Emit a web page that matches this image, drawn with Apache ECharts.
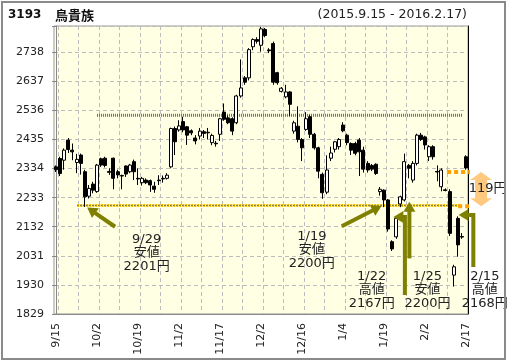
<!DOCTYPE html>
<html><head><meta charset="utf-8">
<script src="https://cdn.jsdelivr.net/npm/echarts@6/dist/echarts.min.js"></script>
<style>html,body{margin:0;padding:0;background:#fff}#c{width:511px;height:364px}</style>
</head><body><div id="c"></div>
<script>
// ---- data ----
const BASE = 1829; // bottom of the price axis
const dates = ['9/15','9/16','9/17','9/18','9/24','9/25','9/28','9/29','9/30','10/1',
'10/2','10/5','10/6','10/7','10/8','10/9','10/13','10/14','10/15','10/16',
'10/19','10/20','10/21','10/22','10/23','10/26','10/27','10/28','10/29','10/30',
'11/2','11/4','11/5','11/6','11/9','11/10','11/11','11/12','11/13','11/16',
'11/17','11/18','11/19','11/20','11/24','11/25','11/26','11/27','11/30','12/1',
'12/2','12/3','12/4','12/7','12/8','12/9','12/10','12/11','12/14','12/15',
'12/16','12/17','12/18','12/21','12/22','12/24','12/25','12/28','12/29','12/30',
'1/4','1/5','1/6','1/7','1/8','1/12','1/13','1/14','1/15','1/18',
'1/19','1/20','1/21','1/22','1/25','1/26','1/27','1/28','1/29','2/1',
'2/2','2/3','2/4','2/5','2/8','2/9','2/10','2/12','2/15','2/16',
'2/17'];
const opens = [2340,2369,2363,2433,2398,2355,2381,2323,2238,2280,
2254,2368,2370,2324,2370,2323,2310,2343,2323,2358,
2300,2285,2294,2292,2273,2294,2300,2300,2340,2473,
2468,2497,2479,2465,2440,2447,2462,2460,2424,2422,
2453,2530,2510,2507,2493,2586,2649,2649,2757,2782,
2762,2817,2746,2768,2667,2602,2583,2600,2464,2481,
2435,2470,2514,2453,2406,2314,2252,2370,2401,2410,
2485,2450,2421,2421,2433,2398,2352,2345,2349,2254,
2259,2225,2080,2097,2211,2225,2345,2294,2352,2450,
2444,2375,2410,2324,2271,2260,2254,1964,2161,2098,
2375];
const closes = [2330,2317,2398,2400,2392,2366,2352,2236,2265,2259,
2346,2346,2345,2321,2300,2312,2308,2315,2346,2323,
2298,2300,2285,2277,2262,2292,2298,2311,2473,2427,
2482,2468,2450,2458,2430,2464,2456,2458,2449,2420,
2507,2505,2493,2464,2586,2614,2634,2747,2782,2776,
2819,2796,2743,2634,2632,2613,2600,2557,2493,2435,
2406,2507,2453,2406,2325,2250,2329,2388,2427,2435,
2465,2424,2398,2387,2392,2332,2329,2332,2317,2262,
2225,2124,2055,2161,2236,2358,2335,2352,2450,2435,
2416,2410,2375,2322,2329,2258,2109,1993,2069,2096,
2336];
const lows = [2322,2308,2330,2388,2363,2318,2313,2201,2230,2248,
2250,2340,2338,2312,2262,2300,2262,2305,2318,2294,
2277,2275,2280,2253,2250,2277,2285,2296,2335,2381,
2462,2460,2416,2450,2418,2435,2440,2435,2415,2410,
2430,2500,2488,2450,2488,2580,2625,2640,2745,2768,
2740,2790,2735,2625,2625,2598,2578,2516,2455,2425,
2360,2465,2440,2400,2300,2229,2245,2360,2390,2400,
2460,2415,2381,2380,2308,2320,2320,2325,2312,2240,
2200,2115,2048,2090,2200,2220,2300,2285,2345,2430,
2400,2360,2365,2290,2255,2255,2100,1924,2028,2090,
2330];
const highs = [2345,2375,2404,2440,2421,2385,2386,2330,2277,2288,
2350,2372,2375,2335,2372,2330,2313,2345,2350,2365,
2335,2305,2300,2296,2288,2311,2310,2318,2476,2480,
2502,2514,2482,2470,2450,2475,2468,2475,2455,2430,
2510,2560,2518,2512,2590,2713,2655,2752,2786,2790,
2826,2822,2752,2775,2670,2617,2625,2603,2500,2550,
2440,2530,2520,2458,2410,2320,2380,2410,2430,2440,
2495,2455,2425,2427,2440,2410,2360,2350,2352,2270,
2262,2228,2085,2167,2240,2386,2350,2360,2455,2458,
2448,2415,2415,2345,2335,2265,2262,2000,2168,2110,
2380];
const yTickValues = [1829,1930,2031,2132,2233,2334,2435,2536,2637,2738];

// reference lines (price levels)
const resistLevel = 2519;
const supportLevel = 2206;
const boxTop = 2322, boxBottom = 2203;

// annotation texts
const annTexts = ['9/29\n安値\n2201円','1/19\n安値\n2200円','1/22\n高値\n2167円','1/25\n安値\n2200円','2/15\n高値\n2168円','119円'];
</script>
<script>
// ---- layout / annotation anchors (x = trading-day index, y = price) ----
const annAnchors = [[22.1,2042],[62.4,2051],[77.0,1912],[90.6,1912],[104.6,1912],[105.3,2265]];
const arrowPaths = [
  [[14.4,2132],[7.6,2199]],
  [[69.7,2134],[79.4,2204]],
  [[85.1,1895],[85.1,2166],[82.3,2166]],
  [[86.2,2022],[86.2,2219]],
  [[101.8,1992],[101.8,2173],[98.2,2173]]
];
const OLIVE = '#808000';
const ORANGE = '#ffa000';
const FONT = '"DejaVu Sans","Noto Sans CJK JP",sans-serif';

const chart = echarts.init(document.getElementById('c'), null, {renderer:'canvas'});
const candleData = dates.map((d,i)=>[opens[i]-BASE, closes[i]-BASE, lows[i]-BASE, highs[i]-BASE]);

function lineSeries(pts, style, z){
  return {type:'line', xAxisIndex:1, yAxisIndex:0, data: pts.map(p=>[p[0], p[1]-BASE]),
    symbol:'none', silent:true, clip:false, z:z, lineStyle: style, animation:false};
}

const option = {
  animation:false,
  backgroundColor:'#fff',
  grid:{left:54, top:26, width:414, height:288, show:true, backgroundColor:'#ffffe4', borderColor:'#999', borderWidth:1},
  xAxis:[
    {type:'category', data:dates, boundaryGap:true,
     axisLine:{lineStyle:{color:'#888'}},
     axisTick:{alignWithLabel:true, interval:(i)=>i%10===0, length:4, lineStyle:{color:'#888'}},
     axisLabel:{interval:(i)=>i%10===0, rotate:90, margin:9, fontSize:11, fontFamily:FONT, color:'#222'},
     splitLine:{show:true, interval:(i)=>i%5===1, lineStyle:{color:'#bdbdbd', type:[4,3]}}},
    {type:'value', min:-0.5, max:100.5, show:false}
  ],
  yAxis:[{type:'value', min:0, max:1000, interval:101,
    axisLine:{show:true, lineStyle:{color:'#888'}},
    axisTick:{show:true, length:4, lineStyle:{color:'#888'}},
    axisLabel:{margin:10, fontSize:11, fontFamily:FONT, color:'#222',
      formatter:(v)=>{const p=v+BASE; return yTickValues.indexOf(p)>=0?String(p):'';}},
    splitLine:{show:true, lineStyle:{color:'#bdbdbd', type:[4,3]}}
  },{type:'value', position:'right', min:0, max:1000,
    axisLine:{show:true, lineStyle:{color:'#000'}}, axisTick:{show:false}, axisLabel:{show:false}, splitLine:{show:false}
  }],
  graphic:[
    {type:'rect', shape:{x:2, y:2, width:503, height:357}, style:{fill:null, stroke:'#8a8a8a', lineWidth:2}, z:100},
    {type:'text', x:8, y:15, style:{text:'3193', font:'bold 12px "DejaVu Sans"', fill:'#111', verticalAlign:'middle'}},
    {type:'text', x:55, y:15, style:{text:'鳥貴族', font:'bold 13px "Noto Sans CJK JP"', fill:'#111', verticalAlign:'middle'}},
    {type:'text', x:467, y:15, style:{text:'(2015.9.15 - 2016.2.17)', font:'12.5px "DejaVu Sans"', fill:'#222', align:'right', verticalAlign:'middle'}}
  ],
  series:[
    lineSeries([[10,resistLevel],[99.1,resistLevel]], {color:'#6e6e6e', width:3, type:[1,1]}, 2),
    lineSeries([[5.2,supportLevel],[98.6,supportLevel]], {color:'#f0c400', width:3, type:[2,1]}, 2),
    lineSeries([[5.2,supportLevel],[98.6,supportLevel]], {color:'#333', width:1, type:[1,2]}, 2),
    {type:'candlestick', xAxisIndex:0, yAxisIndex:0, data:candleData, barWidth:3.5, z:3,
     itemStyle:{color:'#fff', color0:'#000', borderColor:'#000', borderColor0:'#000', borderColorDoji:'#000', borderWidth:1}},
    lineSeries([[95.4,boxTop],[109.7,boxTop]], {color:ORANGE, width:4, type:[4,3]}, 4),
    lineSeries([[98.1,boxBottom],[109.7,boxBottom]], {color:ORANGE, width:4, type:[4,3]}, 4),
    {type:'custom', xAxisIndex:1, yAxisIndex:0, clip:false, silent:true, z:5,
     data:[[103.7, boxTop-BASE, boxBottom-BASE]],
     renderItem:(params, api)=>{
       const t = api.coord([api.value(0), api.value(1)]);
       const b = api.coord([api.value(0), api.value(2)]);
       const cx = t[0], yT = t[1], yB = b[1], hl = 8, hw = 11, sw = 6;
       return {type:'polygon', shape:{points:[[cx,yT],[cx+hw,yT+hl],[cx+sw,yT+hl],[cx+sw,yB-hl],[cx+hw,yB-hl],[cx,yB],[cx-hw,yB-hl],[cx-sw,yB-hl],[cx-sw,yT+hl],[cx-hw,yT+hl]]},
         style:{fill:'rgba(255,150,0,0.5)'}};
     }},
    {type:'custom', xAxisIndex:1, yAxisIndex:0, clip:false, silent:true, z:6,
     data:arrowPaths.map(p=>[p[0][0], p[0][1]-BASE]),
     renderItem:(params, api)=>{
       const pts = arrowPaths[params.dataIndex].map(p=>api.coord([p[0], p[1]-BASE]));
       const n = pts.length, tip = pts[n-1], prev = pts[n-2];
       const dx = tip[0]-prev[0], dy = tip[1]-prev[1], len = Math.hypot(dx,dy);
       const ux = dx/len, uy = dy/len, hl = 10, hw = 6;
       const base = [tip[0]-ux*hl, tip[1]-uy*hl];
       const shaft = pts.slice(0,n-1).concat([[base[0]+ux, base[1]+uy]]);
       const l = [base[0]-uy*hw, base[1]+ux*hw], r = [base[0]+uy*hw, base[1]-ux*hw];
       return {type:'group', children:[
         {type:'polyline', shape:{points:shaft}, style:{stroke:OLIVE, lineWidth:4, fill:null, lineJoin:'miter'}},
         {type:'polygon', shape:{points:[tip,l,r]}, style:{fill:OLIVE}}
       ]};
     }},
    {type:'custom', xAxisIndex:1, yAxisIndex:0, clip:false, silent:true, z:7,
     data:annAnchors.map(p=>[p[0], p[1]-BASE]),
     renderItem:(params, api)=>{
       const c = api.coord([api.value(0), api.value(1)]);
       return {type:'text', x:c[0], y:c[1], style:{text:annTexts[params.dataIndex], font:'13px '+FONT, fill:'#222', align:'center', verticalAlign:'middle', lineHeight:13.5}};
     }}
  ]
};
chart.setOption(option);
</script>
</body></html>
